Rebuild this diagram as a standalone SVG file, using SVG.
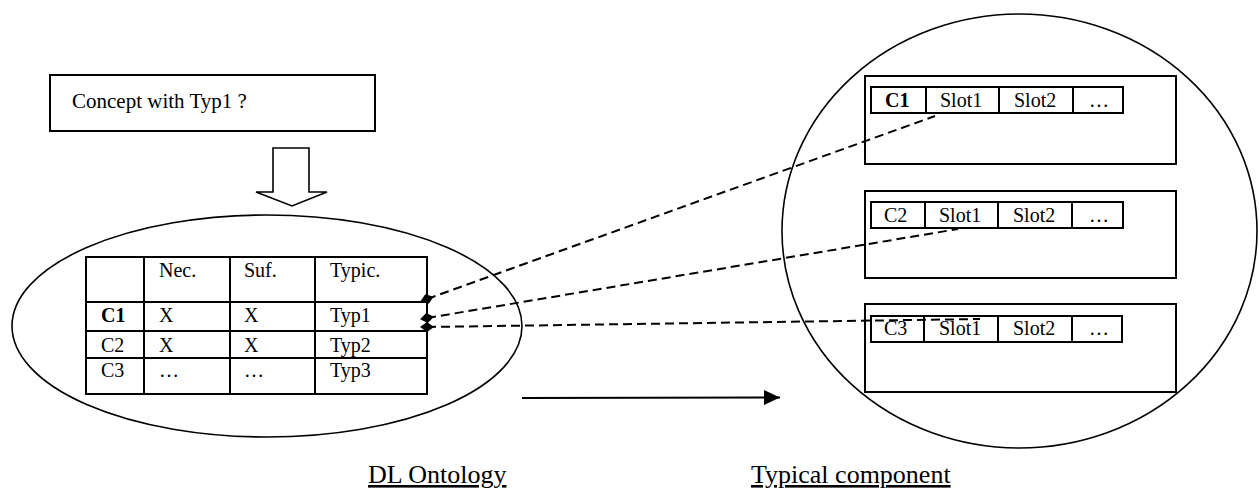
<svg xmlns="http://www.w3.org/2000/svg" width="1259" height="488" viewBox="0 0 1259 488">
  <style>
    .ln { fill: none; stroke: #000; stroke-width: 2; }
    .thin { fill: none; stroke: #000; stroke-width: 1.6; }
    .tx { font-family: "Liberation Serif", "Times New Roman", serif; font-size: 20px; fill: #000; }
    .big { font-size: 21px; }
    .b { font-weight: bold; }
    .lbl { font-family: "Liberation Serif", "Times New Roman", serif; font-size: 26px; fill: #000; text-decoration: underline; }
    .dash { fill: none; stroke: #000; stroke-width: 2; stroke-dasharray: 9 5; }
  </style>
  <defs>
    <marker id="diamond" viewBox="0 0 14 10" refX="7" refY="5" markerWidth="14" markerHeight="10" markerUnits="userSpaceOnUse" orient="auto">
      <polygon points="0,5 7,0 14,5 7,10" fill="#000"/>
    </marker>
    <marker id="arrow" viewBox="0 0 16 15" refX="16" refY="7.5" markerWidth="16" markerHeight="15" markerUnits="userSpaceOnUse" orient="auto">
      <polygon points="0,0 16,7.5 0,15" fill="#000"/>
    </marker>
  </defs>
  <rect width="1259" height="488" fill="#fff"/>

  <!-- query box -->
  <g id="query">
    <rect class="ln" x="50" y="75" width="325" height="56"/>
    <text class="tx big" x="72" y="108">Concept with Typ1 ?</text>
  </g>

  <!-- hollow down arrow -->
  <g id="down-arrow">
    <polygon class="thin" points="273,148 309,148 309,192 327,192 292,206 256,192 273,192"/>
  </g>

  <!-- ontology ellipse with concept table -->
  <g id="ontology">
    <ellipse class="thin" cx="267" cy="326" rx="255" ry="111"/>
    <g class="ln">
      <rect x="86" y="257" width="341" height="137"/>
      <line x1="86" y1="302" x2="427" y2="302"/>
      <line x1="86" y1="331" x2="427" y2="331"/>
      <line x1="86" y1="358" x2="427" y2="358"/>
      <line x1="144" y1="257" x2="144" y2="394"/>
      <line x1="230" y1="257" x2="230" y2="394"/>
      <line x1="315" y1="257" x2="315" y2="394"/>
    </g>
    <text class="tx" x="159" y="277">Nec.</text>
    <text class="tx" x="244" y="277">Suf.</text>
    <text class="tx" x="330" y="277">Typic.</text>
    <text class="tx b" x="101" y="322">C1</text>
    <text class="tx" x="159" y="322">X</text>
    <text class="tx" x="244" y="322">X</text>
    <text class="tx" x="330" y="322">Typ1</text>
    <text class="tx" x="101" y="352">C2</text>
    <text class="tx" x="159" y="352">X</text>
    <text class="tx" x="244" y="352">X</text>
    <text class="tx" x="330" y="352">Typ2</text>
    <text class="tx" x="101" y="377">C3</text>
    <text class="tx" x="159" y="377">…</text>
    <text class="tx" x="244" y="377">…</text>
    <text class="tx" x="330" y="377">Typ3</text>
  </g>

  <!-- typical component circle with three slot frames -->
  <g id="components">
    <ellipse class="thin" cx="1019.5" cy="231" rx="237.5" ry="217"/>
  </g>
  <g id="component-c1">
    <rect class="ln" x="865" y="76" width="311" height="88"/>
    <rect class="ln" x="871" y="87" width="252" height="26"/>
    <line class="ln" x1="926" y1="87" x2="926" y2="113"/>
    <line class="ln" x1="999" y1="87" x2="999" y2="113"/>
    <line class="ln" x1="1073" y1="87" x2="1073" y2="113"/>
    <text class="tx b" x="885" y="107">C1</text>
    <text class="tx" x="940" y="107">Slot1</text>
    <text class="tx" x="1014" y="107">Slot2</text>
    <text class="tx" x="1089" y="107">…</text>
  </g>
  <g id="component-c2">
    <rect class="ln" x="865" y="191" width="311" height="87"/>
    <rect class="ln" x="871" y="202" width="252" height="26"/>
    <line class="ln" x1="925" y1="202" x2="925" y2="228"/>
    <line class="ln" x1="998" y1="202" x2="998" y2="228"/>
    <line class="ln" x1="1072" y1="202" x2="1072" y2="228"/>
    <text class="tx" x="884" y="222">C2</text>
    <text class="tx" x="939" y="222">Slot1</text>
    <text class="tx" x="1013" y="222">Slot2</text>
    <text class="tx" x="1089" y="222">…</text>
  </g>
  <g id="component-c3">
    <rect class="ln" x="865" y="304" width="311" height="88"/>
    <rect class="ln" x="871" y="316" width="251" height="26"/>
    <line class="ln" x1="924" y1="316" x2="924" y2="342"/>
    <line class="ln" x1="998" y1="316" x2="998" y2="342"/>
    <line class="ln" x1="1072" y1="316" x2="1072" y2="342"/>
    <text class="tx" x="884" y="335">C3</text>
    <text class="tx" x="939" y="335">Slot1</text>
    <text class="tx" x="1013" y="335">Slot2</text>
    <text class="tx" x="1089" y="335">…</text>
  </g>

  <!-- connectors -->
  <g id="connectors">
    <line class="dash" x1="427" y1="299" x2="935" y2="116" marker-start="url(#diamond)"/>
    <line class="dash" x1="427" y1="318" x2="958" y2="229" marker-start="url(#diamond)"/>
    <line class="dash" x1="427" y1="327" x2="980" y2="319" marker-start="url(#diamond)"/>
    <line class="ln" x1="522" y1="398" x2="780" y2="397.5" marker-end="url(#arrow)"/>
  </g>

  <!-- captions -->
  <g id="captions">
    <text class="lbl" x="368" y="483">DL Ontology</text>
    <text class="lbl" x="751" y="483">Typical component</text>
  </g>
</svg>
